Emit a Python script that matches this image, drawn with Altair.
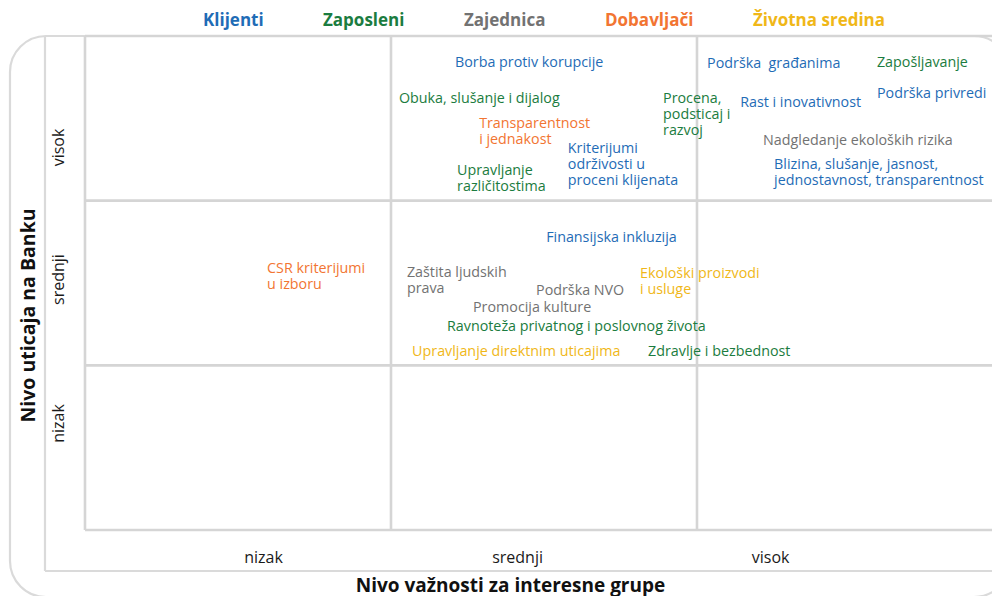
import altair as alt
import pandas as pd

# ---- legend groups ----
GROUPS = ["Klijenti", "Zaposleni", "Zajednica", "Dobavljači", "Životna sredina"]
GROUP_COLORS = ["#1f6cb6", "#1b7c40", "#727272", "#f27532", "#f0b718"]

# ---- topics (label, group, importance for stakeholders, influence on bank) ----
LABELS = [
    "Borba protiv korupcije",
    "Podrška \u00a0građanima",
    "Rast i inovativnost",
    "Podrška privredi",
    "Kriterijumi\nodrživosti u\nproceni klijenata",
    "Blizina, slušanje, jasnost,\njednostavnost, transparentnost",
    "Finansijska inkluzija",
    "Obuka, slušanje i dijalog",
    "Procena,\npodsticaj i\nrazvoj",
    "Zapošljavanje",
    "Upravljanje\nrazličitostima",
    "Ravnoteža privatnog i poslovnog života",
    "Zdravlje i bezbednost",
    "Nadgledanje ekoloških rizika",
    "Zaštita ljudskih\nprava",
    "Podrška NVO",
    "Promocija kulture",
    "Transparentnost\ni jednakost",
    "CSR kriterijumi\nu izboru",
    "Ekološki proizvodi\ni usluge",
    "Upravljanje direktnim uticajima",
]
LABEL_GROUPS = [
    "Klijenti", "Klijenti", "Klijenti", "Klijenti", "Klijenti", "Klijenti", "Klijenti",
    "Zaposleni", "Zaposleni", "Zaposleni", "Zaposleni", "Zaposleni", "Zaposleni",
    "Zajednica", "Zajednica", "Zajednica", "Zajednica",
    "Dobavljači", "Dobavljači",
    "Životna sredina", "Životna sredina",
]
IMPORTANCE = [
    1.209, 2.033, 2.141, 2.588, 1.578, 2.252, 1.507,
    1.026, 1.889, 2.588, 1.216, 1.183, 1.840,
    2.216, 1.052, 1.474, 1.268,
    1.288, 0.595,
    1.814, 1.069,
]
INFLUENCE = [
    2.836, 2.830, 2.593, 2.648, 2.314, 2.217, 1.773,
    2.617, 2.617, 2.836, 2.180, 1.233, 1.081,
    2.362, 1.561, 1.451, 1.348,
    2.466, 1.585,
    1.555, 1.081,
]

# ---- axis levels ----
LEVELS = ["nizak", "srednji", "visok"]
LEVEL_X_POS = [0.582, 1.412, 2.239]
LEVEL_Y_POS = [0.650, 1.524, 2.326]
GRID_X = [0, 1, 2]
GRID_Y = [0, 1, 2, 3]

W, H = 907, 494
X_DOMAIN = [0, W / 306]
Y_DOMAIN = [0, 3]
GRID_COLOR = "#d5d5d5"
FRAME_COLOR = "#dadada"
FONT = "Open Sans"

df = pd.DataFrame({"label": LABELS, "group": LABEL_GROUPS,
                   "imp": IMPORTANCE, "inf": INFLUENCE})

xs = alt.Scale(domain=X_DOMAIN, nice=False, zero=False)
ys = alt.Scale(domain=Y_DOMAIN, nice=False, zero=False)
levels_js = "[" + ",".join("'" + s + "'" for s in LEVELS) + "]"

x_axis = alt.Axis(
    values=LEVEL_X_POS, labelExpr=levels_js + "[floor(datum.value)]",
    title="Nivo važnosti za interesne grupe",
    domain=False, ticks=False, tickSize=0, grid=False,
    labelPadding=32, labelBaseline="alphabetic", labelAlign="center",
    labelFont=FONT, labelFontSize=16, labelColor="#1a1a1a",
    labelOverlap=False, labelFlush=False,
    titleFont=FONT, titleFontSize=19, titleFontWeight="bold", titleColor="#111111",
    titleX=425, titleY=61, titleAlign="center", titleBaseline="alphabetic")

y_axis = alt.Axis(
    values=LEVEL_Y_POS, labelExpr=levels_js + "[floor(datum.value)]",
    title="Nivo uticaja na Banku",
    domain=False, ticks=False, tickSize=0, grid=False,
    labelAngle=270, labelAlign="center", labelBaseline="alphabetic", labelPadding=22,
    labelFont=FONT, labelFontSize=16, labelColor="#1a1a1a",
    labelOverlap=False, labelFlush=False,
    titleFont=FONT, titleFontSize=19.5, titleFontWeight="bold", titleColor="#111111",
    titleAngle=270, titleX=-51, titleY=279, titleAlign="center",
    titleBaseline="alphabetic")

frame = alt.Chart(pd.DataFrame({"a": [0]})).mark_rect(
    fillOpacity=0, stroke=FRAME_COLOR, strokeWidth=2.2, cornerRadius=36
).encode(x=alt.value(-75), x2=alt.value(925), y=alt.value(0), y2=alt.value(561))

inner_v = alt.Chart(pd.DataFrame({"a": [0]})).mark_rule(
    color=FRAME_COLOR, strokeWidth=2.2
).encode(x=alt.value(-40), y=alt.value(0), y2=alt.value(535))

inner_h = alt.Chart(pd.DataFrame({"a": [0]})).mark_rule(
    color=FRAME_COLOR, strokeWidth=2.2
).encode(x=alt.value(-40), x2=alt.value(W + 20), y=alt.value(535))

grid_v = alt.Chart(pd.DataFrame({"imp": GRID_X})).mark_rule(
    color=GRID_COLOR, strokeWidth=2.6
).encode(x=alt.X("imp:Q", scale=xs, axis=x_axis), y=alt.value(0), y2=alt.value(H))

grid_h = alt.Chart(pd.DataFrame({"inf": GRID_Y})).mark_rule(
    color=GRID_COLOR, strokeWidth=2.6
).encode(y=alt.Y("inf:Q", scale=ys, axis=y_axis), x=alt.value(0), x2=alt.value(W))

texts = alt.Chart(df).mark_text(
    align="left", baseline="top", dy=-7, font=FONT, fontSize=14.3,
    lineBreak="\n", lineHeight=16
).encode(
    x=alt.X("imp:Q", scale=xs, axis=x_axis),
    y=alt.Y("inf:Q", scale=ys, axis=y_axis),
    text="label:N",
    color=alt.Color("group:N", scale=alt.Scale(domain=GROUPS, range=GROUP_COLORS),
                    legend=alt.Legend(
                        orient="none", legendX=101, legendY=-24, direction="horizontal",
                        title=None, symbolSize=0, symbolOpacity=0, symbolStrokeWidth=0,
                        labelOffset=0, columnPadding=42, padding=0,
                        labelFont=FONT, labelFontSize=17, labelFontWeight="bold",
                        labelColor=alt.ExprRef("scale('color', datum.value)"),
                        labelLimit=300)),
)

chart = alt.layer(frame, inner_v, inner_h, grid_v, grid_h, texts).properties(
    width=W, height=H,
    autosize=alt.AutoSizeParams(type="none"),
    padding={"left": 77, "top": 28, "right": 0, "bottom": 66},
).configure_view(strokeWidth=0)

chart.save("out.html", embed_options={"renderer": "svg", "actions": False})
